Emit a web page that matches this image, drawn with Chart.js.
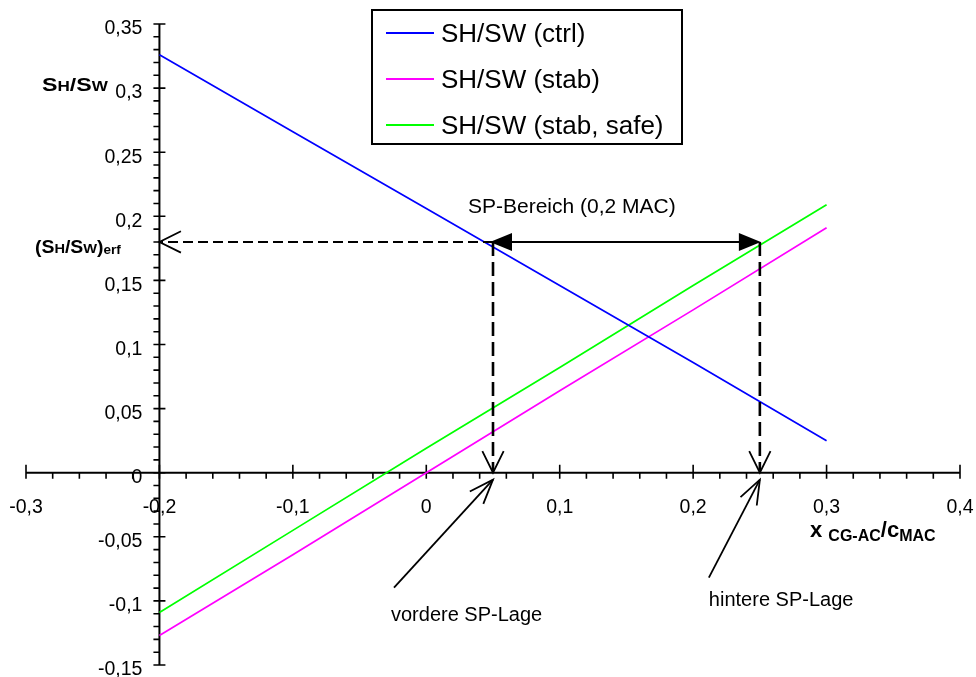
<!DOCTYPE html>
<html>
<head>
<meta charset="utf-8">
<script src="https://cdn.jsdelivr.net/npm/chart.js@4.4.0/dist/chart.umd.min.js"></script>
<style>
  html, body { margin: 0; padding: 0; background: #fff; }
  #wrap { width: 976px; height: 677px; }
</style>
</head>
<body>
<div id="wrap"><canvas id="chart" width="976" height="677"></canvas></div>
<script>
// ===== Data =====
const xPoints = [-0.2, -0.1, 0, 0.1, 0.2, 0.3];
const shCtrl  = [0.326, 0.266, 0.206, 0.146, 0.086, 0.025];
const shStab  = [-0.127, -0.064, 0.000, 0.064, 0.127, 0.191];
const shSafe  = [-0.109, -0.045, 0.019, 0.082, 0.146, 0.209];
const seriesNames  = ["SH/SW (ctrl)", "SH/SW (stab)", "SH/SW (stab, safe)"];
const seriesColors = ["#0000ff", "#ff00ff", "#00ff00"];

const xTicks      = [-0.3, -0.2, -0.1, 0, 0.1, 0.2, 0.3, 0.4];
const xTickLabels = ["-0,3", "-0,2", "-0,1", "0", "0,1", "0,2", "0,3", "0,4"];
const yTicks      = [-0.15, -0.1, -0.05, 0, 0.05, 0.1, 0.15, 0.2, 0.25, 0.3, 0.35];
const yTickLabels = ["-0,15", "-0,1", "-0,05", "0", "0,05", "0,1", "0,15", "0,2", "0,25", "0,3", "0,35"];

// CG range and required tail area
const spFront = 0.05;
const spRear  = 0.25;
const shReq   = 0.18;
const yAxisAt = -0.2;

const FONT = "'Liberation Sans', Arial, sans-serif";

// ===== helpers =====
function openHead(ctx, tx, ty, ang, len = 24, spread = 0.46) {
  ctx.beginPath();
  ctx.moveTo(tx + len * Math.cos(ang - spread), ty + len * Math.sin(ang - spread));
  ctx.lineTo(tx, ty);
  ctx.lineTo(tx + len * Math.cos(ang + spread), ty + len * Math.sin(ang + spread));
  ctx.stroke();
}

function filledHead(ctx, tx, ty, dir, len = 22, half = 9) {
  ctx.beginPath();
  ctx.moveTo(tx, ty);
  ctx.lineTo(tx - dir * len, ty - half);
  ctx.lineTo(tx - dir * len, ty + half);
  ctx.closePath();
  ctx.fill();
}

// parts: [text, size, dy]
function richText(ctx, parts, x, y, sx = 1) {
  ctx.save();
  ctx.translate(x, y);
  ctx.scale(sx, 1);
  ctx.textBaseline = "alphabetic";
  ctx.textAlign = "left";
  let cx = 0;
  parts.forEach(([t, size, dy]) => {
    ctx.font = "bold " + size + "px " + FONT;
    ctx.fillText(t, cx, dy || 0);
    cx += ctx.measureText(t).width;
  });
  ctx.restore();
}

// ===== axes through the origin =====
const crossAxes = {
  id: "crossAxes",
  beforeDatasetsDraw(chart) {
    const { ctx, scales: { x, y } } = chart;
    const x0 = x.getPixelForValue(yAxisAt);
    const y0 = y.getPixelForValue(0);
    ctx.save();
    ctx.strokeStyle = "#000";
    ctx.fillStyle = "#000";
    ctx.lineWidth = 2;
    ctx.beginPath();
    ctx.moveTo(x.left, y0); ctx.lineTo(x.right, y0);
    ctx.moveTo(x0, y.top); ctx.lineTo(x0, y.bottom);
    ctx.stroke();

    // minor ticks
    ctx.lineWidth = 1.6;
    ctx.beginPath();
    for (let i = 0; i <= 35; i++) {
      const px = x.getPixelForValue(x.min + i * 0.02);
      ctx.moveTo(px, y0); ctx.lineTo(px, y0 + 6);
    }
    for (let i = 0; i <= 50; i++) {
      const py = y.getPixelForValue(y.min + i * 0.01);
      ctx.moveTo(x0 - 6, py); ctx.lineTo(x0, py);
    }
    // major ticks
    xTicks.forEach(v => {
      const px = x.getPixelForValue(v);
      ctx.moveTo(px, y0 - 8); ctx.lineTo(px, y0 + 6);
    });
    yTicks.forEach(v => {
      const py = y.getPixelForValue(v);
      ctx.moveTo(x0 - 6, py); ctx.lineTo(x0 + 6, py);
    });
    ctx.stroke();

    // tick labels
    ctx.font = "19.5px " + FONT;
    ctx.textBaseline = "middle";
    ctx.textAlign = "center";
    xTicks.forEach((v, i) => {
      ctx.fillText(xTickLabels[i], x.getPixelForValue(v), y0 + 35);
    });
    ctx.textAlign = "right";
    yTicks.forEach((v, i) => {
      ctx.fillText(yTickLabels[i], x0 - 17, y.getPixelForValue(v) + 5);
    });

    // axis titles
    richText(ctx, [["S", 19], ["H", 14], ["/S", 19], ["W", 14]], 42, y.getPixelForValue(0.3) + 3, 1.22);
    richText(ctx, [["(S", 18], ["H", 13.5], ["/S", 18], ["W", 13.5], [")", 18], ["erf", 12.5, 1]], 35, y.getPixelForValue(shReq) + 11, 1.08);
    richText(ctx, [["x ", 22], ["CG-AC", 16, 4], ["/c", 22], ["MAC", 16, 4]], 810, y0 + 64, 1.0);
    ctx.restore();
  }
};

// ===== annotations and framed legend =====
const notes = {
  id: "notes",
  afterDatasetsDraw(chart) {
    const { ctx, scales: { x, y } } = chart;
    const x0 = x.getPixelForValue(yAxisAt);
    const y0 = y.getPixelForValue(0);
    const xf = x.getPixelForValue(spFront);
    const xr = x.getPixelForValue(spRear);
    const yr = y.getPixelForValue(shReq);
    ctx.save();
    ctx.strokeStyle = "#000";
    ctx.fillStyle = "#000";

    // dashed guides
    ctx.lineWidth = 2;
    ctx.setLineDash([10, 5]);
    ctx.beginPath();
    ctx.moveTo(xf, yr); ctx.lineTo(x0 + 2, yr);
    ctx.stroke();
    ctx.lineWidth = 2.6;
    ctx.setLineDash([14, 6]);
    ctx.beginPath();
    ctx.moveTo(xf, yr); ctx.lineTo(xf, y0 - 2);
    ctx.moveTo(xr, yr); ctx.lineTo(xr, y0 - 2);
    ctx.stroke();
    ctx.setLineDash([]);

    ctx.lineWidth = 1.8;
    openHead(ctx, x0, yr, 0);
    openHead(ctx, xf, y0, -Math.PI / 2);
    openHead(ctx, xr, y0, -Math.PI / 2);

    // SP range arrow
    ctx.lineWidth = 2;
    ctx.beginPath();
    ctx.moveTo(xf + 10, yr); ctx.lineTo(xr - 10, yr);
    ctx.stroke();
    filledHead(ctx, xf - 3, yr, -1);
    filledHead(ctx, xr + 1, yr, 1);

    ctx.font = "21px " + FONT;
    ctx.textAlign = "left";
    ctx.textBaseline = "alphabetic";
    ctx.fillText("SP-Bereich (0,2 MAC)", xf - 25, yr - 29);

    // callouts
    const callouts = [
      { x: xf, dx: -99, dy: 108, tdx: -102, tdy: 141, text: "vordere SP-Lage" },
      { x: xr, dx: -51, dy: 98, tdx: -51, tdy: 126, text: "hintere SP-Lage" }
    ];
    ctx.font = "20px " + FONT;
    ctx.lineWidth = 1.8;
    callouts.forEach(c => {
      const tx = c.x, ty = y0 + 7;
      ctx.beginPath();
      ctx.moveTo(tx + c.dx, ty + c.dy); ctx.lineTo(tx, ty);
      ctx.stroke();
      openHead(ctx, tx, ty, Math.atan2(c.dy, c.dx), 26, 0.36);
      ctx.fillText(c.text, tx + c.tdx, ty + c.tdy);
    });

    // legend box
    const lx = 372, ly = 10, lw = 310, lh = 134;
    ctx.lineWidth = 2;
    ctx.strokeRect(lx, ly, lw, lh);
    ctx.font = "26px " + FONT;
    ctx.textBaseline = "middle";
    chart.data.datasets.forEach((ds, i) => {
      const ry = ly + 23 + i * 46;
      ctx.strokeStyle = ds.borderColor;
      ctx.lineWidth = 2;
      ctx.beginPath();
      ctx.moveTo(lx + 14, ry); ctx.lineTo(lx + 62, ry);
      ctx.stroke();
      ctx.fillStyle = "#000";
      ctx.fillText(ds.label, lx + 69, ry + 2);
    });
    ctx.restore();
  }
};

const mkSeries = (label, values, color) => ({
  label,
  data: xPoints.map((xv, i) => ({ x: xv, y: values[i] })),
  showLine: true,
  borderColor: color,
  backgroundColor: color,
  borderWidth: 1.7,
  pointRadius: 0,
  fill: false
});

const chart = new Chart(document.getElementById("chart").getContext("2d"), {
  type: "scatter",
  data: {
    datasets: [
      mkSeries(seriesNames[0], shCtrl, seriesColors[0]),
      mkSeries(seriesNames[1], shStab, seriesColors[1]),
      mkSeries(seriesNames[2], shSafe, seriesColors[2])
    ]
  },
  options: {
    responsive: false,
    animation: false,
    layout: { padding: { left: 26, right: 16, top: 24, bottom: 12 } },
    scales: {
      x: { type: "linear", min: -0.3, max: 0.4, display: false },
      y: { type: "linear", min: -0.15, max: 0.35, display: false }
    },
    plugins: {
      legend: { display: false },
      tooltip: { enabled: false }
    }
  },
  plugins: [crossAxes, notes]
});
</script>
</body>
</html>
